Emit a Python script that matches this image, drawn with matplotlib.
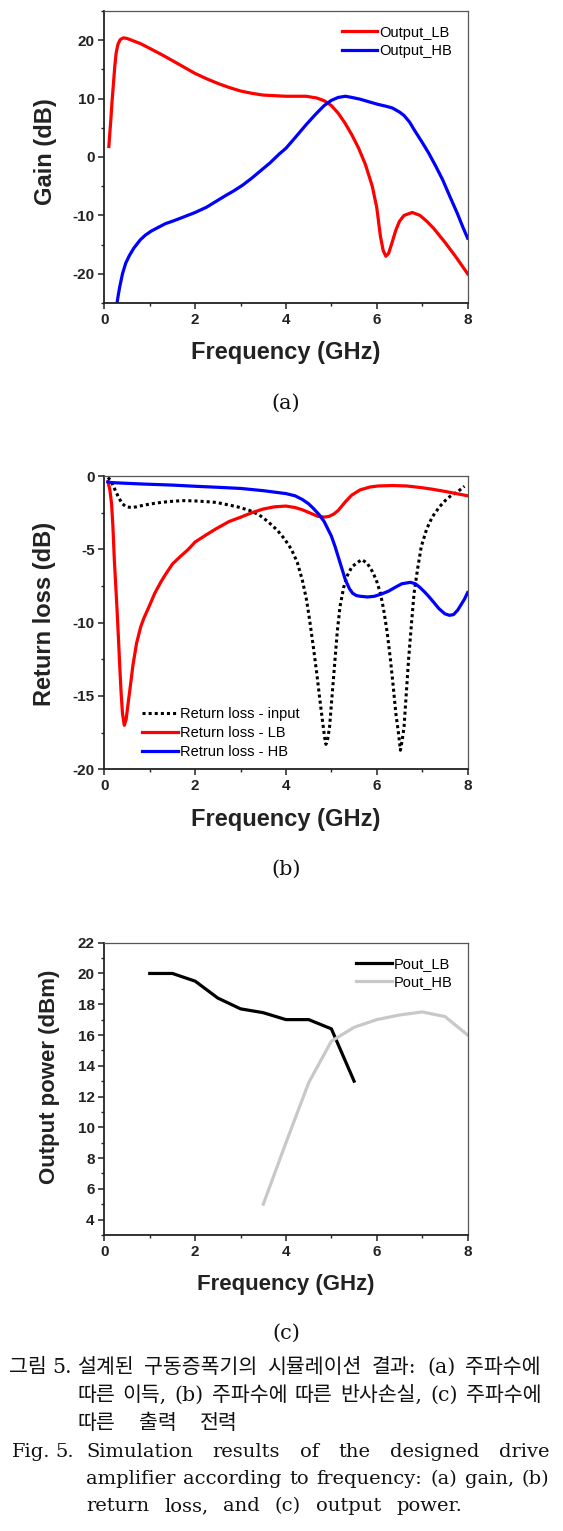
import numpy as np
import matplotlib
matplotlib.use("Agg")
import matplotlib.pyplot as plt
from matplotlib.ticker import MultipleLocator

plt.rcParams['axes.unicode_minus'] = False
plt.rcParams['font.family'] = ['Liberation Sans', 'DejaVu Sans']

# ---------------- data: (a) gain ----------------
gain_lb_f = [0.10, 0.12, 0.14, 0.17, 0.20, 0.23, 0.26, 0.30, 0.35, 0.42, 0.50, 0.60, 0.80, 1.00, 1.27,
             1.50, 1.75, 2.00, 2.25, 2.50, 2.75, 3.00, 3.25, 3.50, 4.00, 4.44, 4.68, 4.85, 5.00, 5.15,
             5.30, 5.45, 5.60, 5.75, 5.90, 6.00, 6.08, 6.14, 6.20, 6.26, 6.33, 6.42, 6.50, 6.60, 6.78,
             6.95, 7.10, 7.25, 7.50, 7.75, 8.00]
gain_lb = [1.8, 4.0, 6.0, 9.5, 12.5, 15.5, 17.8, 19.3, 20.1, 20.4, 20.3, 20.0, 19.4, 18.6, 17.5,
           16.5, 15.4, 14.3, 13.4, 12.6, 11.9, 11.3, 10.9, 10.6, 10.4, 10.4, 10.1, 9.6, 8.8, 7.5,
           5.8, 3.8, 1.5, -1.3, -5.0, -8.7, -13.6, -16.0, -17.0, -16.5, -14.8, -12.5, -11.0, -10.0, -9.5,
           -10.0, -11.0, -12.2, -14.6, -17.2, -20.0]

gain_hb_f = [0.28, 0.31, 0.34, 0.40, 0.47, 0.55, 0.65, 0.79, 0.90, 1.03, 1.20, 1.35, 1.50, 1.67, 2.00,
             2.25, 2.46, 2.65, 2.85, 3.05, 3.25, 3.45, 3.65, 3.85, 4.00, 4.20, 4.44, 4.65, 4.84, 5.00,
             5.15, 5.31, 5.45, 5.63, 5.85, 6.03, 6.20, 6.34, 6.50, 6.60, 6.72, 6.82, 7.00, 7.14, 7.30,
             7.45, 7.60, 7.77, 7.90, 8.00]
gain_hb = [-25.0, -23.5, -22.2, -20.0, -18.2, -16.9, -15.6, -14.2, -13.4, -12.7, -12.0, -11.4, -11.0, -10.5, -9.5,
           -8.6, -7.6, -6.7, -5.8, -4.8, -3.6, -2.3, -1.0, 0.5, 1.5, 3.3, 5.5, 7.3, 8.8, 9.7,
           10.2, 10.4, 10.2, 9.9, 9.4, 9.0, 8.7, 8.4, 7.7, 7.1, 6.0, 4.7, 2.5, 0.7, -1.6,
           -3.9, -6.6, -9.6, -12.1, -13.9]

# ---------------- data: (b) return loss ----------------
rl_in_f = [0.08, 0.14, 0.20, 0.26, 0.32, 0.40, 0.48, 0.60, 0.71, 0.85, 1.03, 1.25, 1.51, 1.75, 2.00,
           2.25, 2.46, 2.70, 2.93, 3.20, 3.41, 3.60, 3.81, 3.97, 4.12, 4.25, 4.36, 4.45, 4.52, 4.60,
           4.68, 4.74, 4.80, 4.85, 4.88, 4.92, 4.96, 5.02, 5.08, 5.13, 5.19, 5.27, 5.35, 5.45, 5.55,
           5.67, 5.79, 5.90, 5.99, 6.08, 6.15, 6.23, 6.30, 6.36, 6.42, 6.48, 6.52, 6.56, 6.60, 6.65,
           6.70, 6.76, 6.82, 6.90, 6.98, 7.10, 7.22, 7.38, 7.53, 7.65, 7.77, 7.93]
rl_in = [-0.1, -0.3, -0.7, -1.1, -1.5, -1.9, -2.1, -2.15, -2.1, -2.0, -1.9, -1.8, -1.72, -1.68, -1.7,
         -1.75, -1.8, -1.95, -2.1, -2.35, -2.65, -3.1, -3.7, -4.3, -5.0, -5.9, -7.1, -8.4, -9.8, -11.6,
         -13.5, -15.1, -16.6, -17.8, -18.3, -17.9, -17.1, -14.8, -12.5, -10.6, -8.9, -7.6, -6.8, -6.2, -5.95,
         -5.7, -5.95, -6.5, -7.1, -8.0, -9.1, -10.7, -12.5, -14.3, -16.2, -17.6, -18.7, -18.0, -17.1, -14.8,
         -12.5, -10.2, -8.0, -6.3, -4.8, -3.6, -2.8, -2.1, -1.6, -1.3, -1.1, -0.7]

rl_lb_f = [0.08, 0.12, 0.16, 0.19, 0.22, 0.25, 0.28, 0.31, 0.34, 0.37, 0.40, 0.44, 0.48, 0.52, 0.57,
           0.63, 0.71, 0.80, 0.87, 1.00, 1.11, 1.25, 1.35, 1.50, 1.67, 1.85, 2.00, 2.25, 2.46, 2.75,
           3.01, 3.25, 3.50, 3.75, 4.00, 4.20, 4.36, 4.55, 4.70, 4.85, 4.95, 5.05, 5.15, 5.31, 5.45,
           5.63, 5.85, 6.03, 6.35, 6.66, 7.00, 7.22, 7.50, 7.75, 8.00]
rl_lb = [-0.4, -0.9, -1.9, -3.5, -5.7, -7.4, -9.1, -11.0, -13.0, -14.8, -16.2, -17.0, -16.6, -15.6, -14.4,
         -12.9, -11.4, -10.3, -9.7, -8.8, -8.0, -7.2, -6.7, -6.0, -5.5, -5.0, -4.5, -4.0, -3.6, -3.1,
         -2.8, -2.5, -2.25, -2.1, -2.05, -2.15, -2.3, -2.55, -2.75, -2.8, -2.75, -2.6, -2.35, -1.75, -1.3,
         -0.95, -0.75, -0.68, -0.65, -0.68, -0.8, -0.9, -1.05, -1.2, -1.35]

rl_hb_f = [0.08, 0.16, 0.50, 0.87, 1.50, 2.00, 2.50, 3.01, 3.50, 4.00, 4.20, 4.36, 4.50, 4.60, 4.72,
           4.84, 4.92, 5.00, 5.08, 5.15, 5.23, 5.31, 5.40, 5.47, 5.55, 5.63, 5.80, 5.95, 6.10, 6.26,
           6.40, 6.55, 6.74, 6.85, 6.95, 7.05, 7.14, 7.25, 7.37, 7.50, 7.60, 7.69, 7.78, 7.85, 7.93, 8.00]
rl_hb = [-0.4, -0.45, -0.5, -0.55, -0.62, -0.7, -0.77, -0.85, -1.0, -1.2, -1.35, -1.6, -1.9, -2.2, -2.6,
         -3.1, -3.6, -4.1, -4.8, -5.5, -6.3, -7.1, -7.7, -8.0, -8.15, -8.2, -8.25, -8.2, -8.05, -7.85,
         -7.6, -7.35, -7.25, -7.35, -7.6, -7.9, -8.2, -8.6, -9.05, -9.4, -9.5, -9.45, -9.15, -8.8, -8.4, -7.95]

# ---------------- data: (c) output power ----------------
pout_lb_f = [1.0, 1.5, 2.0, 2.5, 3.0, 3.5, 4.0, 4.5, 5.0, 5.5]
pout_lb = [20.0, 20.0, 19.5, 18.4, 17.7, 17.45, 17.0, 17.0, 16.4, 13.0]
pout_hb_f = [3.5, 4.0, 4.5, 5.0, 5.5, 6.0, 6.5, 7.0, 7.5, 8.0]
pout_hb = [5.0, 9.0, 12.9, 15.6, 16.5, 17.0, 17.3, 17.5, 17.2, 16.0]

x_ticks = [0, 2, 4, 6, 8]
panel_labels = ['(a)', '(b)', '(c)']
caption_kr = [
    ['그림', '5.'],
    ['설계된', '구동증폭기의', '시뮬레이션', '결과:', '(a)', '주파수에'],
    ['따른', '이득,', '(b)', '주파수에', '따른', '반사손실,', '(c)', '주파수에'],
    ['따른', '출력', '전력'],
]
caption_en = [
    ['Fig.', '5.'],
    ['Simulation', 'results', 'of', 'the', 'designed', 'drive'],
    ['amplifier', 'according', 'to', 'frequency:', '(a)', 'gain,', '(b)'],
    ['return', 'loss,', 'and', '(c)', 'output', 'power.'],
]

# ---------------- figure ----------------
W, H = 563, 1531
fig = plt.figure(figsize=(W / 100, H / 100), dpi=100)
fig.patch.set_facecolor('white')

RED = '#ff0000'
BLUE = '#0000ff'
LW = 2.3

def style_axes(ax, ylim, ymaj, ymin, ylabel, ylab_xy, lab_size):
    ax.set_xlim(0, 8)
    ax.set_ylim(*ylim)
    ax.set_xticks(x_ticks)
    ax.xaxis.set_minor_locator(MultipleLocator(1))
    ax.yaxis.set_major_locator(MultipleLocator(ymaj))
    ax.yaxis.set_minor_locator(MultipleLocator(ymin))
    ax.tick_params(which='major', direction='out', length=4, width=1.1, color='#222222',
                   labelsize=11, pad=3)
    ax.tick_params(which='minor', direction='out', length=2, width=1.0, color='#222222')
    for lab in ax.get_xticklabels() + ax.get_yticklabels():
        lab.set_fontweight('bold')
        lab.set_color('#222222')
    for s in ['left', 'bottom']:
        ax.spines[s].set_linewidth(1.3)
        ax.spines[s].set_color('#222222')
    for s in ['top', 'right']:
        ax.spines[s].set_linewidth(0.9)
        ax.spines[s].set_color('#555555')
    ax.set_xlabel('Frequency (GHz)', fontsize=lab_size, fontweight='bold', color='#222222', va='center')
    ax.xaxis.set_label_coords(0.5, -0.1695)
    ax.set_ylabel(ylabel, fontsize=lab_size, fontweight='bold', color='#222222', va='center')
    ax.yaxis.set_label_coords(*ylab_xy)

L, Wd = 0.1853, 0.6453
leg_kw = dict(loc='upper left', frameon=False, borderpad=0, handlelength=2.45,
              handletextpad=0.12, fontsize=10.5, borderaxespad=0)

# (a)
ax1 = fig.add_axes([L, 0.80209, Wd, 0.19073])
ax1.plot(gain_lb_f, gain_lb, color=RED, lw=LW, label='Output_LB')
ax1.plot(gain_hb_f, gain_hb, color=BLUE, lw=LW, label='Output_HB')
style_axes(ax1, (-25, 25), 10, 5, 'Gain (dB)', (-0.163, 0.518), 17)
ax1.legend(bbox_to_anchor=(0.6535, 0.95), labelspacing=0.3, **leg_kw)

# (b)
ax2 = fig.add_axes([L, 0.49752, Wd, 0.19157])
ax2.plot(rl_in_f, rl_in, color='black', lw=2.2, linestyle=(0, (1, 1)), label='Return loss - input')
ax2.plot(rl_lb_f, rl_lb, color=RED, lw=LW, label='Return loss - LB')
ax2.plot(rl_hb_f, rl_hb, color=BLUE, lw=LW, label='Retrun loss - HB')
style_axes(ax2, (-20, 0), 5, 2.5, 'Return loss (dB)', (-0.165, 0.5295), 17)
ax2.legend(bbox_to_anchor=(0.1038, 0.212), labelspacing=0.35, **leg_kw)

# (c)
ax3 = fig.add_axes([L, 0.19334, Wd, 0.19092])
ax3.plot(pout_lb_f, pout_lb, color='black', lw=LW, label='Pout_LB')
ax3.plot(pout_hb_f, pout_hb, color='#c8c8c8', lw=LW, label='Pout_HB')
style_axes(ax3, (3, 22), 2, 1, 'Output power (dBm)', (-0.1505, 0.5416), 16)
ax3.legend(bbox_to_anchor=(0.693, 0.952), labelspacing=0.3, **leg_kw)

# panel labels
for lab, yc in zip(panel_labels, [403, 869, 1333]):
    fig.text(286 / W, 1 - yc / H, lab, ha='center', va='center', fontsize=15,
             family=['DejaVu Serif'], color='#111111')

# ---------------- caption (justified lines) ----------------
CAP_FAM = ['DejaVu Serif', 'Noto Sans CJK KR']
renderer = fig.canvas.get_renderer()

def place_words(words, x0, x1, yb, size, xs=None):
    texts = [fig.text(0, 1 - yb / H, w, ha='left', va='baseline', fontsize=size,
                      family=CAP_FAM, color='#111111') for w in words]
    widths = [t.get_window_extent(renderer).width for t in texts]
    if xs is not None:
        for t, x in zip(texts, xs):
            t.set_x(x / W)
        return
    gap = (x1 - x0 - sum(widths)) / (len(words) - 1)
    x = x0
    for t, w in zip(texts, widths):
        t.set_x(x / W)
        x += w + gap

KR = 14.8
EN = 14
# Korean
place_words(caption_kr[0], 0, 0, 1373, KR, xs=[9, 52])
place_words(caption_kr[1], 77, 541, 1373, KR)
place_words(caption_kr[2], 77, 541, 1401, KR)
place_words(caption_kr[3], 77, 238, 1429, KR)
# English
place_words(caption_en[0], 0, 0, 1457, EN, xs=[12, 55])
place_words(caption_en[1], 86, 549, 1457, EN)
place_words(caption_en[2], 86, 549, 1484, EN)
place_words(caption_en[3], 86, 462, 1511, EN)

fig.savefig('out.png', dpi=100, facecolor='white')
